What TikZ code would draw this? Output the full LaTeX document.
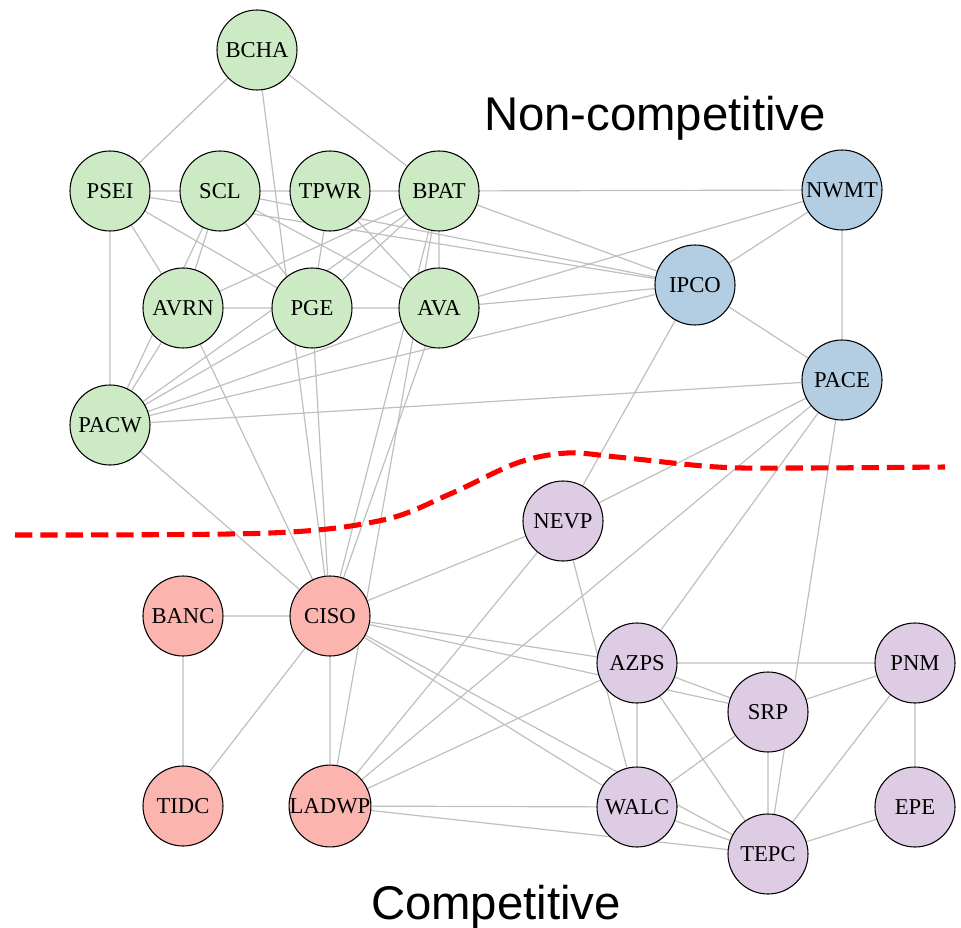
\documentclass[tikz,border=0pt]{standalone}
\usepackage{fontspec}
\setmainfont{Liberation Serif}
\setsansfont{Liberation Sans}
\usetikzlibrary{backgrounds}

\definecolor{zonegreen}{HTML}{CCEBC5}
\definecolor{zoneblue}{HTML}{B3CDE3}
\definecolor{zonered}{HTML}{FBB4AE}
\definecolor{zonepurple}{HTML}{DECBE4}

\begin{document}
\begin{tikzpicture}[x=0.75pt, y=-0.75pt,
    area/.style={circle, draw=black, line width=0.8pt, minimum size=60pt, inner sep=0pt,
        font=\fontsize{17}{17}\selectfont},
    north/.style={area, fill=zonegreen},
    east/.style={area, fill=zoneblue},
    south/.style={area, fill=zonered},
    desert/.style={area, fill=zonepurple},
    link/.style={draw=gray!50, line width=0.9pt},
    caption/.style={anchor=base, font=\sffamily\fontsize{35.5}{40}\selectfont}]

    \useasboundingbox (0,0) rectangle (961,928);

    % Aree non competitive
    \node[north] (bcha) at (257,50) {BCHA};
    \node[north] (psei) at (110,191) {PSEI};
    \node[north] (scl) at (220,191) {SCL};
    \node[north] (tpwr) at (330,191) {TPWR};
    \node[north] (bpat) at (439,191) {BPAT};
    \node[north] (avrn) at (183,308) {AVRN};
    \node[north] (pge) at (312,308) {PGE};
    \node[north] (ava) at (439,308) {AVA};
    \node[north] (pacw) at (110,425) {PACW};
    \node[east] (nwmt) at (842,190) {NWMT};
    \node[east] (ipco) at (695,285) {IPCO};
    \node[east] (pace) at (842,380) {PACE};

    % Aree competitive
    \node[south] (banc) at (183,616) {BANC};
    \node[south] (ciso) at (330,616) {CISO};
    \node[south] (tidc) at (183,806) {TIDC};
    \node[south] (ladwp) at (330,806) {LADWP};
    \node[desert] (nevp) at (563,521) {NEVP};
    \node[desert] (azps) at (637,663) {AZPS};
    \node[desert] (pnm) at (915,663) {PNM};
    \node[desert] (srp) at (768,712) {SRP};
    \node[desert] (walc) at (637,807) {WALC};
    \node[desert] (epe) at (915,807) {EPE};
    \node[desert] (tepc) at (768,854) {TEPC};

    % Collegamenti
    \begin{scope}[on background layer]
        \draw[link] (bcha) -- (psei) (bcha) -- (bpat) (bcha) -- (ciso);
        \draw[link] (psei) -- (scl) (psei) -- (pacw) (psei) -- (avrn) (psei) -- (pge) (psei) -- (ipco);
        \draw[link] (scl) -- (tpwr) (scl) -- (avrn) (scl) -- (pacw) (scl) -- (pge) (scl) -- (ava) (scl) -- (ipco);
        \draw[link] (tpwr) -- (bpat) (tpwr) -- (pge) (tpwr) -- (ava);
        \draw[link] (bpat) -- (nwmt) (bpat) -- (ipco) (bpat) -- (ava) (bpat) -- (avrn) (bpat) -- (pge)
            (bpat) -- (pacw) (bpat) -- (ciso) (bpat) -- (ladwp);
        \draw[link] (avrn) -- (pge) (avrn) -- (pacw) (avrn) -- (ciso);
        \draw[link] (pge) -- (ava) (pge) -- (pacw) (pge) -- (ciso);
        \draw[link] (ava) -- (pacw) (ava) -- (nwmt) (ava) -- (ipco) (ava) -- (ciso);
        \draw[link] (pacw) -- (ipco) (pacw) -- (pace) (pacw) -- (ciso);
        \draw[link] (nwmt) -- (ipco) (nwmt) -- (pace) (ipco) -- (pace) (ipco) -- (nevp);
        \draw[link] (pace) -- (nevp) (pace) -- (ladwp) (pace) -- (azps) (pace) -- (tepc);
        \draw[link] (nevp) -- (ciso) (nevp) -- (ladwp) (nevp) -- (walc);
        \draw[link] (banc) -- (ciso) (banc) -- (tidc) (ciso) -- (tidc) (ciso) -- (ladwp);
        \draw[link] (ciso) -- (azps) (ciso) -- (srp) (ciso) -- (walc) (ciso) -- (tepc);
        \draw[link] (ladwp) -- (azps) (ladwp) -- (walc) (ladwp) -- (tepc);
        \draw[link] (azps) -- (pnm) (azps) -- (srp) (azps) -- (walc) (azps) -- (tepc);
        \draw[link] (srp) -- (pnm) (srp) -- (walc) (srp) -- (tepc);
        \draw[link] (pnm) -- (tepc) (pnm) -- (epe) (epe) -- (tepc) (walc) -- (tepc);
    \end{scope}

    % Confine
    \draw[red, line width=3.8pt, dash pattern=on 13pt off 6pt]
        plot[smooth, tension=0.55] coordinates {(15,535) (270,533) (383,520) (450,494) (517,463)
            (567,453) (617,457) (717,467) (800,468) (945,467)};

    % Etichette
    \node[caption] (noncomp) at (655,130) {Non-competitive};
    \node[caption] (comp) at (496,919) {Competitive};

\end{tikzpicture}
\end{document}
